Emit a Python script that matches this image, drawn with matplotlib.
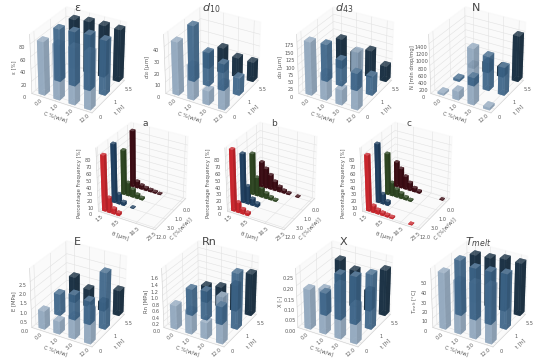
import numpy as np
import matplotlib
matplotlib.use('Agg')
import matplotlib.pyplot as plt
from matplotlib.colors import to_rgb

conc_labels = ['0.0', '1.0', '3.0', '12.0']
time_labels = ['0', '1', '5.5']
size_labels = ['1.5', '8.5', '16.5', '23.5']
conc_labels_rev = ['12.0', '3.0', '1.0', '0.0']

eps_vals = [[86, 88, 90, 90], [86, 88, 90, 88], [82, 85, 85, 85]]
d10_vals = [[45, 29, 12, 22], [48, 29, 23, 15], [13, 22, 17, 17]]
d43_vals = [[180, 90, 52, 190], [129, 90, 60, 66], [105, 72, 93, 54]]
n_vals = [[60, 250, 1550, 70], [70, 240, 970, 790], [95, 300, 285, 1300]]
e_vals = [[1.0, 0.7, 1.2, 1.8], [1.2, 1.4, 1.3, 3.05], [1.45, 1.0, 0.5, 1.4]]
rn_vals = [[0.73, 0.7, 0.5, 1.4], [0.83, 0.9, 0.56, 1.7], [0.53, 0.63, 0.82, 1.3]]
x_vals = [[0.19, 0.21, 0.25, 0.18], [0.11, 0.22, 0.23, 0.26], [0.21, 0.18, 0.10, 0.22]]
tm_vals = [[59, 55, 57, 59], [59, 55, 56, 58], [52, 53, 56, 56]]

bins = [1.5, 3.5, 5.5, 7.5, 9.5, 11.5, 13.5, 15.5, 17.5, 19.5, 21.5, 23.5]
hist_a = [[82, 22, 8, 4, 0, 0, 0, 0, 0, 0, 0, 0],
          [87, 15, 5, 0, 1, 0, 0, 0, 0, 0, 0, 0],
          [67, 20, 12, 6, 3, 0, 0, 0, 0, 0, 0, 0],
          [85, 10, 6, 4, 3, 2, 1, 0, 0, 0, 0, 0]]
hist_b = [[90, 15, 7, 4, 0, 0, 0, 0, 0, 0, 0, 0],
          [73, 27, 10, 5, 0, 0, 0, 0, 0, 0, 0, 0],
          [62, 28, 14, 8, 4, 2, 0, 0, 0, 0, 0, 0],
          [38, 30, 22, 14, 8, 4, 2, 0, 1, 0, 0, 0]]
hist_c = [[82, 10, 6, 4, 3, 2, 0, 0, 0, 1, 0, 0],
          [87, 15, 6, 0, 0, 0, 0, 0, 0, 0, 0, 0],
          [62, 20, 12, 8, 4, 2, 0, 0, 0, 0, 0, 0],
          [38, 30, 20, 12, 6, 3, 0, 0, 0, 0, 1, 0]]

bar_colors = ['#8ea5bc', '#3c6488', '#0c2438']
hist_colors = ['#c8242b', '#1f3f5f', '#2c4420', '#3a0a12']
txt = '#555555'


def face_colors(col, n):
    # bottom, top, -y, +y, -x, +x
    r = np.array(to_rgb(col))
    top = r + (1 - r) * 0.22
    side = r * 0.88
    faces = [r, top, r, r, r, side]
    return [tuple(f) for f in faces] * n


def style_axes(ax):
    for axis in (ax.xaxis, ax.yaxis, ax.zaxis):
        axis.set_pane_color((0.97, 0.97, 0.97, 0.6))
        axis.line.set_color('#cccccc')
        axis.line.set_linewidth(0.4)
        axis._axinfo['grid']['color'] = '#e2e2e2'
        axis._axinfo['grid']['linewidth'] = 0.4
        axis._axinfo['tick']['inward_factor'] = 0
        axis._axinfo['tick']['outward_factor'] = 0
    ax.tick_params(labelsize=3.6, pad=-4, colors=txt)
    ax.tick_params(axis='x', pad=-7)
    ax.zaxis.set_ticks_position('lower')
    ax.zaxis.set_label_position('lower')
    ax.zaxis.set_rotate_label(False)


def panel(cx, cy, title, vals, zlab, zmax, zticks, ztl):
    rect = [(cx - 85) / 537, 1 - (cy + 68) / 358, 170 / 537, 136 / 358]
    ax = fig.add_axes(rect, projection='3d', computed_zorder=False)
    ax.patch.set_alpha(0)
    order = [2, 0, 1]
    for z, r in enumerate(order):
        xs = np.arange(4)
        ax.bar3d(xs, np.full(4, r), np.zeros(4), 0.42, 0.33, vals[r], shade=False,
                 color=face_colors(bar_colors[r], 4), alpha=0.72, zorder=z + 1, linewidth=0)
    ax.set_xlim(-0.35, 3.6)
    ax.set_ylim(-0.1, 2.2)
    ax.set_zlim(0, zmax)
    ax.set_xticks(np.arange(4) + 0.2)
    ax.set_xticklabels(conc_labels, rotation=40)
    ax.set_yticks(np.arange(3) + 0.15)
    ax.set_yticklabels(time_labels)
    ax.set_zticks(zticks)
    ax.set_zticklabels(ztl)
    style_axes(ax)
    ax.set_xlabel('C %(w/w)', fontsize=3.8, labelpad=-13, color=txt)
    ax.set_ylabel('t [h]', fontsize=3.8, labelpad=-12, color=txt)
    ax.set_zlabel(zlab, fontsize=3.8, labelpad=-12, color=txt, rotation=90)
    ax.set_box_aspect((4, 4, 3.9), zoom=0.85)
    fig.text(cx / 537, 1 - (cy - 52) / 358, title, fontsize=8, color='#444444',
             ha='center', va='center')


def hist_panel(cx, cy, title, rows):
    rect = [(cx - 84) / 537, 1 - (cy + 62) / 358, 156 / 537, 124 / 358]
    ax = fig.add_axes(rect, projection='3d', computed_zorder=False)
    ax.patch.set_alpha(0)
    for r, row in enumerate(rows):
        row = np.array(row, dtype=float)
        keep = row > 0
        ax.bar3d(np.array(bins)[keep], np.full(keep.sum(), r), np.zeros(keep.sum()),
                 1.5, 0.25, row[keep], shade=False, color=face_colors(hist_colors[r], keep.sum()),
                 alpha=0.9, zorder=r + 1, linewidth=0)
    ax.set_xlim(0.5, 24.5)
    ax.set_ylim(-0.15, 3.4)
    ax.set_zlim(0, 92)
    ax.set_xticks([1.5, 8.5, 16.5, 23.5])
    ax.set_xticklabels(size_labels, rotation=40)
    ax.set_yticks([0, 1, 2, 3])
    ax.set_yticklabels(conc_labels_rev)
    ax.set_zticks(np.arange(0, 90, 10))
    style_axes(ax)
    ax.set_xlabel('θ [µm]', fontsize=3.8, labelpad=-13, color=txt)
    ax.set_ylabel('C [%(w/w)]', fontsize=3.8, labelpad=-12, color=txt)
    ax.set_zlabel('Percentage Frequency [%]', fontsize=3.8, labelpad=-12, color=txt, rotation=90)
    ax.set_box_aspect((4, 4, 4.4), zoom=0.92)
    fig.text((cx - 2) / 537, 1 - (cy - 52) / 358, title, fontsize=6.5, color='#444444',
             ha='center', va='center')


fig = plt.figure(figsize=(5.37, 3.58), dpi=100)

panel(77, 60, 'ε', eps_vals, 'ε [%]', 95, [0, 20, 40, 60, 80], ['0', '20', '40', '60', '80'])
panel(211, 60, '$d_{10}$', d10_vals, '$d_{10}$ [µm]', 50, [0, 10, 20, 30, 40], ['0', '10', '20', '30', '40'])
panel(344, 60, '$d_{43}$', d43_vals, '$d_{43}$ [µm]', 200, np.arange(0, 176, 25), [str(v) for v in np.arange(0, 176, 25)])
panel(476, 60, 'N', n_vals, 'N [mln drop/mg]', 1650, np.arange(0, 1401, 200), [str(v) for v in np.arange(0, 1401, 200)])

hist_panel(147, 176, 'a', hist_a)
hist_panel(276, 176, 'b', hist_b)
hist_panel(411, 176, 'c', hist_c)

panel(77, 294, 'E', e_vals, 'E [MPa]', 3.2, np.arange(0, 2.6, 0.5), ['0.0', '0.5', '1.0', '1.5', '2.0', '2.5'])
panel(209, 294, 'Rn', rn_vals, 'Rn [MPa]', 1.8, np.arange(0, 1.7, 0.2), ['%.1f' % v for v in np.arange(0, 1.7, 0.2)])
panel(343, 294, 'X', x_vals, 'X [-]', 0.28, np.arange(0, 0.26, 0.05), ['%.2f' % v for v in np.arange(0, 0.26, 0.05)])
panel(478, 294, '$T_{melt}$', tm_vals, '$T_{melt}$ [°C]', 62, [0, 10, 20, 30, 40, 50], ['0', '10', '20', '30', '40', '50'])

fig.savefig('out.png', dpi=100)
